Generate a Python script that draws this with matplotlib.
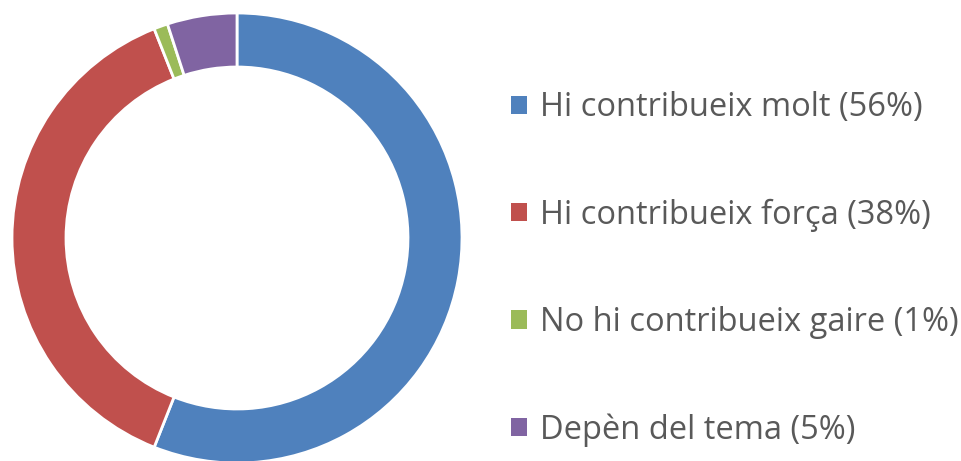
import matplotlib
matplotlib.use("Agg")
import matplotlib.pyplot as plt

labels = ['Hi contribueix molt (56%)', 'Hi contribueix força (38%)',
          'No hi contribueix gaire (1%)', 'Depèn del tema (5%)']
values = [56, 38, 1, 5]
colors = ['#4F81BD', '#C0504D', '#9BBB59', '#8064A2']

plt.rcParams['font.family'] = ['Open Sans', 'DejaVu Sans']

W, H = 961, 461
fig = plt.figure(figsize=(W / 100, H / 100), dpi=100)

# donut: centre at (237, 238) px from top-left, outer radius 225 px
cx, cy, r = 237, 238, 225
ax = fig.add_axes([(cx - r) / W, (H - cy - r) / H, 2 * r / W, 2 * r / H])
wedges, _ = ax.pie(values, colors=colors, startangle=90, counterclock=False,
                   radius=1, wedgeprops=dict(width=0.24, edgecolor='white', linewidth=2))
ax.set_xlim(-1, 1)
ax.set_ylim(-1, 1)
ax.set_aspect('equal')
ax.axis('off')

fs = 23.5
leg = fig.legend(wedges, labels, loc='center left', bbox_to_anchor=(511 / W, 192 / H),
                 frameon=False, fontsize=fs, labelcolor='#595959', borderpad=0,
                 borderaxespad=0,
                 handlelength=0.49, handleheight=0.49, handletextpad=0.4,
                 labelspacing=2.27)
for h in leg.legend_handles:
    h.set_edgecolor('none')

fig.savefig('out.png', dpi=100)
